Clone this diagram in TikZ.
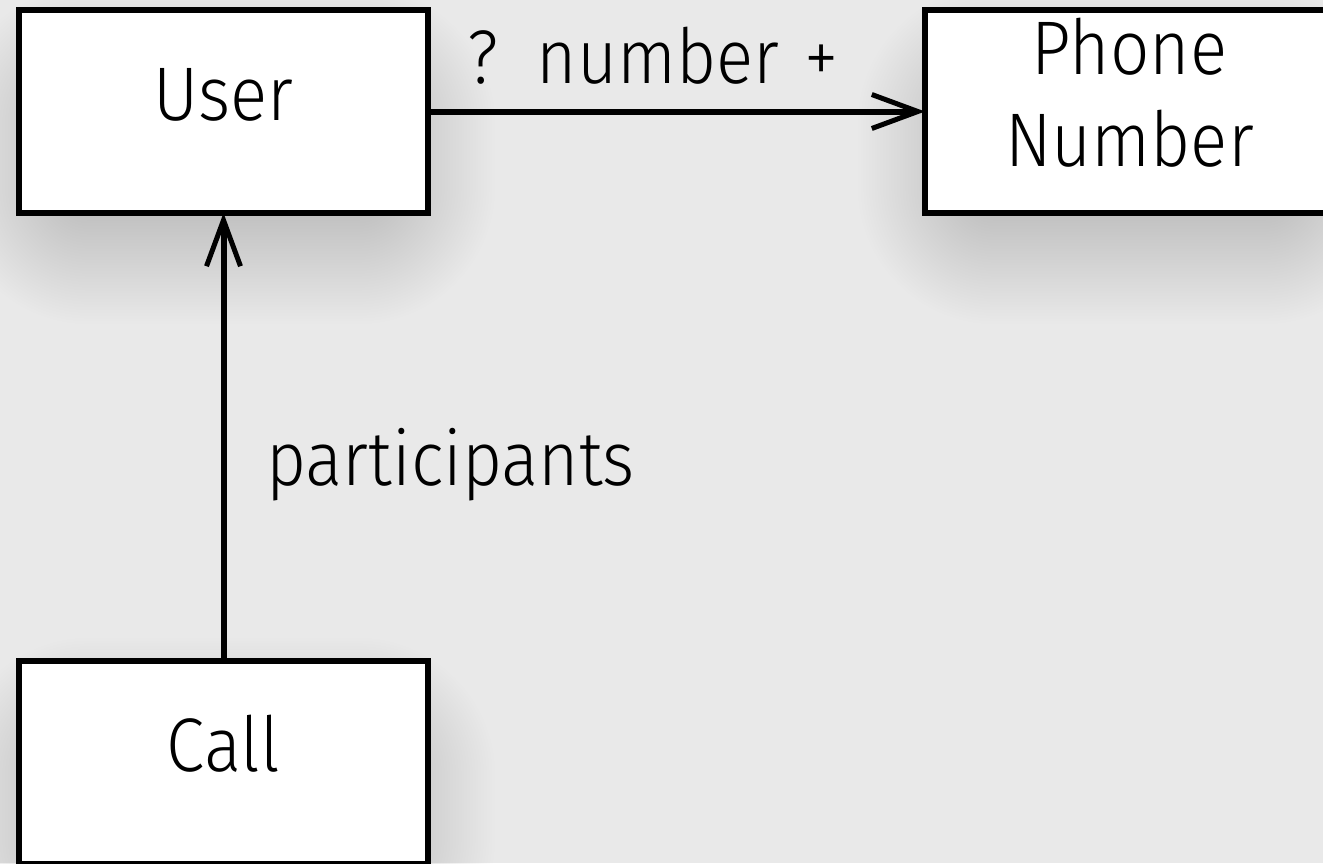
\documentclass[tikz,border=0pt]{standalone}
\usepackage{fontspec}
\setmainfont{Fira Sans Light}[FakeStretch=0.91]
\usetikzlibrary{arrows.meta}
\definecolor{bg}{HTML}{E9E9E9}
\pgfdeclarelayer{bglayer}
\pgfdeclarelayer{shadowlayer}
\pgfsetlayers{bglayer,shadowlayer,main}
\newcommand\softshadow[1]{%
  \foreach \i in {0,...,49}{%
    \pgfmathsetmacro\shr{-35+\i*1.4}%
    \pgfmathsetmacro\nshr{-\shr}%
    \pgfmathsetmacro\shlo{-22-\shr}%
    \pgfmathsetmacro\shhi{-22+\shr}%
    \pgfmathsetmacro\shrc{max(0.5,\shr+35)}%
    \fill[black, fill opacity=0.0034, rounded corners=\shrc pt]
      ([xshift=\nshr pt, yshift=\shlo pt]#1.south west) rectangle
      ([xshift=\shr pt, yshift=\shhi pt]#1.north east);
  }}
\begin{document}
\begin{tikzpicture}[x=0.5pt,y=-0.5pt,
  cls/.style={draw=black, fill=white, line width=3pt, rectangle,
    minimum width=204.5pt, minimum height=101.5pt, inner sep=0pt, outer sep=0pt,
    font=\fontsize{38}{46}\selectfont, align=center,
    text height=26pt, text depth=17.5pt},
  lbl/.style={font=\fontsize{38}{46}\selectfont, inner sep=0pt, anchor=base west},
  assoc/.style={line width=3pt, -{Straight Barb[length=23pt,width=17pt,line width=2.5pt]}}]
\useasboundingbox (0,0) rectangle (1323,863);
\clip (0,0) rectangle (1323,863);
\node[cls] (user) at (223.5,111.5) {User};
\node[cls, text height=72pt, text depth=17.5pt] (phone) at (1129.5,111.5) {Phone\\Number};
\node[cls] (call) at (223.5,762.5) {Call};
\begin{pgfonlayer}{bglayer}
  \fill[bg] (0,0) rectangle (1323,863);
\end{pgfonlayer}
\begin{pgfonlayer}{shadowlayer}
  \softshadow{user}
  \softshadow{phone}
  \softshadow{call}
\end{pgfonlayer}
\draw[assoc] (user.east) -- (phone.west);
\draw[assoc] (call.north) -- (user.south);
\node[lbl] (l1) at (467,83) {?\ \ number\ \hspace{3pt}+};
\node[lbl] (l2) at (266,485) {participants};
\end{tikzpicture}
\end{document}
